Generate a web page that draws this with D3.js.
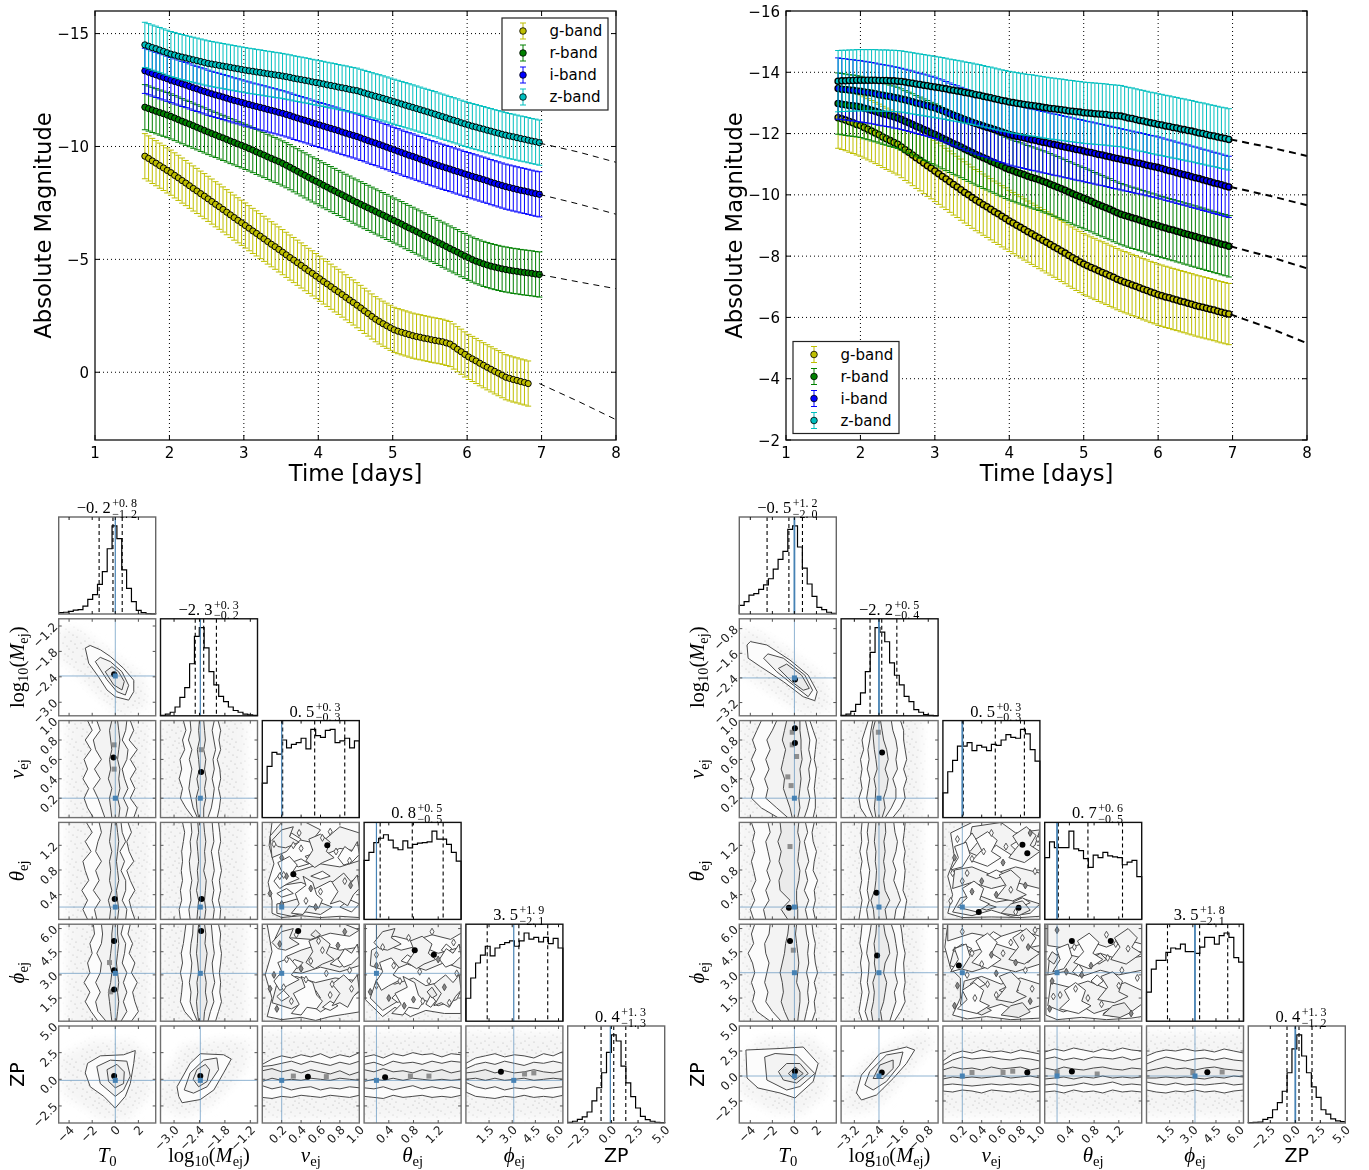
<!DOCTYPE html>
<html><head><meta charset="utf-8"><title>Light curves and corner plots</title>
<script src="https://cdn.jsdelivr.net/npm/d3@7/dist/d3.min.js"></script>
<style>html,body{margin:0;background:#fff}svg{display:block;filter:blur(0.3px)}</style></head><body><svg id="c"></svg>
<script>
// ---------- light curve data (magnitudes; error bars are +/-1 mag) ----------
const bandNames=["g-band","r-band","i-band","z-band"];
const bandColors=["#bfbf00","#008000","#0000ff","#00bfbf"];
const magErr=1;
const timeL=[1.67,1.72,1.77,1.82,1.87,1.92,1.97,2.02,2.07,2.12,2.17,2.22,2.27,2.32,2.37,2.42,2.47,2.52,2.57,2.62,2.67,2.72,2.77,2.82,2.87,2.92,2.97,3.02,3.07,3.12,3.17,3.22,3.27,3.32,3.37,3.42,3.47,3.52,3.57,3.62,3.67,3.72,3.77,3.82,3.87,3.92,3.97,4.02,4.07,4.12,4.17,4.22,4.27,4.32,4.37,4.42,4.47,4.52,4.57,4.62,4.67,4.72,4.77,4.82,4.87,4.92,4.97,5.02,5.07,5.12,5.17,5.22,5.27,5.32,5.37,5.42,5.47,5.52,5.57,5.62,5.67,5.72,5.77,5.82,5.87,5.92,5.97,6.02,6.07,6.12,6.17,6.22,6.27,6.32,6.37,6.42,6.47,6.52,6.57,6.62,6.67,6.72,6.77,6.82,6.87,6.92,6.97];
const timeR=[1.70,1.75,1.80,1.85,1.90,1.95,2.00,2.05,2.10,2.15,2.20,2.25,2.30,2.35,2.40,2.45,2.50,2.55,2.60,2.65,2.70,2.75,2.80,2.85,2.90,2.95,3.00,3.05,3.10,3.15,3.20,3.25,3.30,3.35,3.40,3.45,3.50,3.55,3.60,3.65,3.70,3.75,3.80,3.85,3.90,3.95,4.00,4.05,4.10,4.15,4.20,4.25,4.30,4.35,4.40,4.45,4.50,4.55,4.60,4.65,4.70,4.75,4.80,4.85,4.90,4.95,5.00,5.05,5.10,5.15,5.20,5.25,5.30,5.35,5.40,5.45,5.50,5.55,5.60,5.65,5.70,5.75,5.80,5.85,5.90,5.95,6.00,6.05,6.10,6.15,6.20,6.25,6.30,6.35,6.40,6.45,6.50,6.55,6.60,6.65,6.70,6.75,6.80,6.85,6.90,6.95];
const gL=[-9.57,-9.47,-9.36,-9.26,-9.15,-9.05,-8.94,-8.84,-8.72,-8.61,-8.49,-8.38,-8.26,-8.14,-8.03,-7.91,-7.80,-7.68,-7.56,-7.44,-7.33,-7.21,-7.09,-6.97,-6.85,-6.73,-6.62,-6.50,-6.38,-6.26,-6.15,-6.03,-5.91,-5.79,-5.67,-5.56,-5.44,-5.32,-5.20,-5.08,-4.97,-4.85,-4.73,-4.61,-4.49,-4.38,-4.26,-4.14,-4.02,-3.91,-3.79,-3.67,-3.56,-3.44,-3.32,-3.20,-3.09,-2.97,-2.85,-2.72,-2.60,-2.47,-2.35,-2.25,-2.15,-2.06,-1.97,-1.88,-1.82,-1.77,-1.72,-1.67,-1.62,-1.58,-1.55,-1.51,-1.48,-1.44,-1.41,-1.38,-1.35,-1.30,-1.25,-1.14,-1.02,-.91,-.79,-.68,-.59,-.50,-.40,-.31,-.22,-.13,-.04,.04,.13,.22,.27,.32,.36,.41,.45,.50];
const rL=[-11.74,-11.68,-11.62,-11.56,-11.50,-11.45,-11.39,-11.33,-11.26,-11.19,-11.12,-11.05,-10.99,-10.92,-10.85,-10.78,-10.71,-10.64,-10.57,-10.51,-10.44,-10.38,-10.31,-10.24,-10.18,-10.11,-10.05,-9.98,-9.91,-9.84,-9.76,-9.69,-9.62,-9.54,-9.47,-9.40,-9.33,-9.25,-9.17,-9.08,-8.99,-8.90,-8.81,-8.72,-8.63,-8.54,-8.46,-8.37,-8.28,-8.20,-8.11,-8.03,-7.94,-7.86,-7.77,-7.69,-7.60,-7.52,-7.44,-7.36,-7.28,-7.20,-7.12,-7.04,-6.96,-6.88,-6.80,-6.72,-6.64,-6.56,-6.47,-6.39,-6.31,-6.23,-6.15,-6.06,-5.98,-5.90,-5.82,-5.73,-5.65,-5.57,-5.48,-5.40,-5.32,-5.23,-5.15,-5.07,-4.99,-4.92,-4.86,-4.80,-4.75,-4.70,-4.66,-4.62,-4.58,-4.55,-4.52,-4.49,-4.47,-4.44,-4.42,-4.40,-4.38,-4.35,-4.33];
const iL=[-13.35,-13.29,-13.23,-13.17,-13.11,-13.06,-13.00,-12.94,-12.88,-12.83,-12.77,-12.72,-12.66,-12.60,-12.55,-12.49,-12.44,-12.38,-12.33,-12.28,-12.24,-12.19,-12.14,-12.09,-12.04,-12.00,-11.95,-11.90,-11.86,-11.81,-11.77,-11.73,-11.69,-11.64,-11.60,-11.56,-11.51,-11.47,-11.42,-11.37,-11.31,-11.26,-11.21,-11.16,-11.11,-11.05,-11.00,-10.95,-10.90,-10.85,-10.80,-10.75,-10.70,-10.64,-10.59,-10.54,-10.49,-10.44,-10.38,-10.32,-10.26,-10.20,-10.15,-10.09,-10.03,-9.97,-9.91,-9.85,-9.79,-9.73,-9.67,-9.61,-9.56,-9.50,-9.44,-9.38,-9.32,-9.26,-9.21,-9.15,-9.10,-9.05,-9.00,-8.94,-8.89,-8.84,-8.78,-8.73,-8.68,-8.63,-8.58,-8.53,-8.48,-8.42,-8.37,-8.32,-8.27,-8.22,-8.18,-8.14,-8.10,-8.06,-8.03,-7.99,-7.95,-7.91,-7.88];
const zL=[-14.50,-14.44,-14.38,-14.33,-14.27,-14.21,-14.15,-14.09,-14.05,-14.00,-13.96,-13.92,-13.88,-13.84,-13.80,-13.76,-13.72,-13.68,-13.65,-13.62,-13.59,-13.56,-13.53,-13.50,-13.47,-13.44,-13.41,-13.38,-13.35,-13.33,-13.30,-13.28,-13.25,-13.22,-13.20,-13.17,-13.15,-13.12,-13.09,-13.06,-13.02,-12.99,-12.96,-12.93,-12.90,-12.86,-12.83,-12.80,-12.77,-12.73,-12.70,-12.67,-12.63,-12.60,-12.57,-12.53,-12.50,-12.47,-12.42,-12.37,-12.32,-12.27,-12.22,-12.18,-12.13,-12.08,-12.03,-11.98,-11.93,-11.88,-11.83,-11.78,-11.73,-11.68,-11.63,-11.58,-11.53,-11.48,-11.43,-11.37,-11.32,-11.27,-11.21,-11.16,-11.11,-11.05,-11.00,-10.95,-10.90,-10.86,-10.81,-10.77,-10.72,-10.68,-10.63,-10.59,-10.54,-10.50,-10.46,-10.43,-10.39,-10.35,-10.32,-10.28,-10.24,-10.21,-10.17];
const gR=[-12.52,-12.48,-12.44,-12.39,-12.35,-12.30,-12.26,-12.20,-12.14,-12.08,-12.02,-11.96,-11.89,-11.83,-11.77,-11.71,-11.65,-11.56,-11.47,-11.39,-11.30,-11.21,-11.13,-11.04,-10.95,-10.87,-10.78,-10.69,-10.60,-10.52,-10.43,-10.34,-10.26,-10.17,-10.08,-10.00,-9.91,-9.83,-9.76,-9.68,-9.61,-9.53,-9.45,-9.38,-9.30,-9.23,-9.15,-9.08,-9.01,-8.94,-8.87,-8.80,-8.73,-8.66,-8.59,-8.52,-8.45,-8.38,-8.31,-8.24,-8.17,-8.10,-8.02,-7.95,-7.88,-7.81,-7.74,-7.69,-7.63,-7.58,-7.52,-7.47,-7.42,-7.36,-7.31,-7.25,-7.20,-7.15,-7.11,-7.06,-7.02,-6.97,-6.92,-6.88,-6.83,-6.79,-6.74,-6.71,-6.67,-6.64,-6.60,-6.57,-6.53,-6.50,-6.46,-6.43,-6.39,-6.36,-6.33,-6.30,-6.27,-6.24,-6.20,-6.17,-6.14,-6.11];
const rR=[-12.98,-12.96,-12.94,-12.92,-12.91,-12.89,-12.87,-12.83,-12.80,-12.76,-12.73,-12.69,-12.65,-12.62,-12.58,-12.55,-12.51,-12.46,-12.40,-12.35,-12.30,-12.24,-12.19,-12.13,-12.08,-12.02,-11.97,-11.91,-11.85,-11.79,-11.73,-11.67,-11.62,-11.56,-11.50,-11.44,-11.38,-11.32,-11.27,-11.21,-11.16,-11.10,-11.05,-10.99,-10.94,-10.88,-10.83,-10.79,-10.74,-10.70,-10.66,-10.61,-10.57,-10.53,-10.49,-10.44,-10.40,-10.35,-10.30,-10.25,-10.20,-10.15,-10.09,-10.04,-9.99,-9.94,-9.89,-9.84,-9.79,-9.73,-9.68,-9.63,-9.58,-9.53,-9.47,-9.42,-9.37,-9.33,-9.29,-9.25,-9.22,-9.18,-9.14,-9.10,-9.06,-9.03,-8.99,-8.95,-8.92,-8.88,-8.85,-8.81,-8.78,-8.74,-8.71,-8.67,-8.64,-8.60,-8.57,-8.53,-8.50,-8.46,-8.43,-8.39,-8.36,-8.32];
const iR=[-13.47,-13.45,-13.44,-13.42,-13.41,-13.39,-13.38,-13.36,-13.34,-13.32,-13.30,-13.27,-13.25,-13.23,-13.21,-13.18,-13.16,-13.13,-13.10,-13.07,-13.04,-13.00,-12.97,-12.94,-12.91,-12.87,-12.84,-12.79,-12.75,-12.70,-12.65,-12.60,-12.56,-12.51,-12.46,-12.42,-12.37,-12.33,-12.29,-12.25,-12.21,-12.17,-12.13,-12.09,-12.05,-12.01,-11.97,-11.94,-11.91,-11.89,-11.86,-11.83,-11.80,-11.78,-11.75,-11.72,-11.70,-11.67,-11.64,-11.62,-11.59,-11.56,-11.54,-11.51,-11.48,-11.46,-11.43,-11.40,-11.38,-11.35,-11.32,-11.30,-11.27,-11.24,-11.21,-11.19,-11.16,-11.13,-11.11,-11.08,-11.05,-11.03,-11.00,-10.97,-10.94,-10.92,-10.89,-10.86,-10.82,-10.79,-10.76,-10.72,-10.69,-10.66,-10.63,-10.59,-10.56,-10.53,-10.49,-10.46,-10.43,-10.39,-10.36,-10.33,-10.29,-10.26];
const zR=[-13.71,-13.72,-13.72,-13.73,-13.73,-13.74,-13.74,-13.74,-13.74,-13.74,-13.74,-13.73,-13.73,-13.73,-13.72,-13.72,-13.71,-13.70,-13.68,-13.66,-13.64,-13.62,-13.60,-13.58,-13.56,-13.54,-13.52,-13.50,-13.48,-13.46,-13.43,-13.41,-13.39,-13.37,-13.34,-13.32,-13.30,-13.27,-13.25,-13.22,-13.19,-13.17,-13.14,-13.11,-13.08,-13.06,-13.03,-13.01,-12.99,-12.97,-12.95,-12.93,-12.92,-12.90,-12.88,-12.86,-12.84,-12.82,-12.81,-12.79,-12.78,-12.76,-12.74,-12.73,-12.71,-12.70,-12.68,-12.67,-12.66,-12.65,-12.64,-12.63,-12.62,-12.60,-12.59,-12.58,-12.57,-12.54,-12.51,-12.49,-12.46,-12.43,-12.41,-12.38,-12.35,-12.33,-12.30,-12.28,-12.25,-12.23,-12.20,-12.18,-12.15,-12.13,-12.10,-12.08,-12.05,-12.02,-12.00,-11.97,-11.94,-11.92,-11.89,-11.86,-11.84,-11.81];
const extTimes=[6.97,7.5,8];
const extL=[[.5,1.3,2.1],[-4.33,-4.0,-3.7],[-7.88,-7.45,-7.0],[-10.15,-9.75,-9.3]];
const extR=[[-6.1,-5.65,-5.16],[-8.32,-7.98,-7.6],[-10.26,-9.97,-9.66],[-11.81,-11.55,-11.27]];
const xTicksTop=[1,2,3,4,5,6,7,8];
const yTicksL=[-15,-10,-5,0];
const yTicksR=[-16,-14,-12,-10,-8,-6,-4,-2];

// ---------- corner plot data ----------
const domL=[[-4.9,3.5],[-3.32,-1.03],[0,1],[0,1.5708],[0,6.2832],[-4.1,5]];
const domR=[[-5,3.8],[-3.63,-.48],[0,1],[0,1.5708],[0,6.2832],[-4.7,5]];
const ticksCommon=[[-4,-2,0,2],null,[.2,.4,.6,.8,1],[.4,.8,1.2],[1.5,3,4.5,6],[-2.5,0,2.5,5]];
const ticksMejL=[-3,-2.4,-1.8,-1.2];
const ticksMejR=[-3.2,-2.4,-1.6,-.8];
const truthL=[0,-2.38,.2,.2,3.1,-.1];
const truthR=[0,-2.4,.2,.2,3.14,0];
const medL=[-.2,-2.3,.5,.8,3.5,.4],plusL=[.8,.3,.3,.5,1.9,1.3],minusL=[1.2,.2,.3,.5,2.1,1.3];
const medR=[-.5,-2.2,.5,.7,3.5,.4],plusR=[1.2,.5,.3,.6,1.8,1.3],minusR=[2.0,.4,.3,.5,2.1,1.2];
const quantL=[[-1.4,-.2,.6],[-2.5,-2.3,-2.0],[.21,.54,.85],[.26,.78,1.28],[1.38,3.43,5.3],[-.97,.22,1.35]];
const quantR=[[-2.48,-.5,.73],[-2.69,-2.31,-1.82],[.21,.54,.84],[.22,.7,1.26],[1.36,3.44,5.26],[-.83,.37,1.67]];
const hL_T0=[1.5,2,3,4.5,5,9,16.6,22,33.5,48,74,100,85.5,50,29,14,4,1.5,.5,.2];
const hL_M=[.4,2,4,10,21,32,59,90,100,77,50,35,22,16,10,6,4,2,1,.4];
const hL_v=[39,58,74,72,88,79,83,85,90,78,100,93,91,99,100,85,87,90,79,87];
const hL_th=[67,76,87,92,96,90,81,79,89,81,85,86.5,87,88,100,91,91,85,76,66];
const hL_phi=[26,49,66,75,85,74,83,87,89,91,85,91,100,93,95,90,95,88,94,83];
const hL_ZP=[.8,2,4,7,12.5,25,40,57,80,100,93,64.5,45.5,30,17,7.6,3.8,2,.8,.4];
const hR_T0=[9.8,14,21.5,23,28,33,40,51,62,71,96,100,76,52,34,20,7.5,5,2,.8];
const hR_M=[.4,2,5,13,26,50,72,100,95,84,60,46,35,22,16,7,4,1.5,.4,.2];
const hR_v=[28,52,65,81,81,85,76,82,80,76,83,82,88,94,91,90,100,95,77,64];
const hR_th=[70,88,81.5,81.5,81.5,100,80,78,69,59,73,70,76,72,71,70,62,65,67,48.5];
const hR_phi=[33,59,69,69,78,83,82,87.5,79,79,77,84,95,95,87.5,97,100,95,72,67];
const hR_ZP=[.4,.8,1,4,6,15,23,36,57,84,100,76,57,41,29,15,10,4.6,2.3,1.5];

// Contour stations for band-shaped panels
const stV=[0,.1,.2,.3,.4,.5,.6,.7,.8,.9,1];
const stTh=[0,.16,.31,.47,.63,.79,.94,1.1,1.26,1.41,1.57];
const stPhi=[0,.63,1.26,1.88,2.51,3.14,3.77,4.4,5.03,5.65,6.28];

// rings: [level, x,y,x,y,...] closed polygons, or [level, lowEdge[], highEdge[]] read at the stations
const rL01=[[0,-2.6,-1.72,-2.17,-1.66,-1.3,-1.76,-.43,-1.92,.72,-2.2,1.6,-2.48,1.6,-2.75,1.16,-2.95,0,-2.87,-.72,-2.71,-1.45,-2.4,-2.3,-2.08],[1,-1.73,-2.04,-1.3,-1.94,-.43,-2.04,.58,-2.28,1.16,-2.6,.87,-2.83,.14,-2.75,-.72,-2.47],[2,-.87,-2.28,-.29,-2.16,.29,-2.28,.78,-2.51,.58,-2.71,-.14,-2.59]];
const rL05=[[0,-2.4,1.5,-1.3,2.2,.72,2.3,1.73,2.7,1.6,1.5,1.3,-.4,.87,-1.6,0,-2.7,-1,-1.6,-2.17,-.7,-2.6,.6],[1,-1.6,1.2,-.43,1.8,1,1.7,1.3,.3,.72,-1,0,-1.6,-1.3,-.4],[2,-.72,.9,.14,1.4,.78,.7,.72,-.4,0,-.8,-.58,-.2]];
const rL15=[[0,-2.89,-1.6,-2.93,-.7,-2.62,1.5,-2.38,2.4,-1.83,2.3,-1.65,1.9,-1.83,.6,-2.06,-1,-2.38,-1.9,-2.81,-2.2],[1,-2.76,-1,-2.62,.6,-2.3,1.8,-1.99,2,-1.95,.9,-2.22,-.7,-2.54,-1.3],[2,-2.55,0,-2.46,.9,-2.26,1.4,-2.16,.9,-2.22,-.2,-2.42,-.7]];
const rL02=[[0,[-1.9,-2.4,-2.7,-2.3,-2.8,-2.4,-2.7,-2.1,-2.6,-2.0,-2.4],[1.6,1.9,1.3,1.7,1.3,1.8,1.3,1.9,1.2,1.6,1.3]],[1,[-.9,-1.2,-1.5,-1.9,-1.3,-1.8,-1.2,-1.7,-1.9,-1.3,-1.6],[.9,1.1,.7,1.1,.8,.6,1,1.1,.6,.9,1]],[2,[-.3,-.4,-.5,-.3,-.6,-.4,-.5,-.3,-.4,-.5,-.3],[.3,.4,.2,.4,.3,.4,.2,.3,.4,.3,.2]]];
const rL03=[[0,[-2.4,-2.8,-2.4,-2.9,-2.3,-2.6,-2.8,-2.1,-2.6,-2.0,-2.5],[1.7,1.4,1.2,1.7,1.3,1.0,1.6,1.2,1.0,1.4,1.1]],[1,[-1.6,-1.8,-1.3,-1.9,-1.4,-1.7,-1.2,-1.7,-1.5,-1.2,-1.4],[.9,1,.6,.9,.9,.5,.8,.4,.9,.6,.5]],[2,[-.5,-.4,-.6,-.3,-.5,-.4,-.5,-.3,-.5,-.4,-.3],[.2,.3,.2,.1,.3,.2,.1,.2,.3,.2,.1]]];
const rL04=[[0,[-1.5,-2.1,-2.6,-2.2,-2.7,-2.2,-2.4,-2.0,-2.2,-1.8,-1.9],[1.4,2,1.7,1.5,1.9,1.4,1.7,1.2,1.5,1.1,1.3]],[1,[-.8,-1.5,-1.7,-1.3,-1.7,-1.3,-1.2,-1.6,-1.2,-1.1,-1.2],[.5,1,.7,1,.7,1,.6,.8,.9,.5,.7]],[2,[-.3,-.4,-.5,-.6,-.4,-.3,-.5,-.4,-.3,-.3,-.2],[.1,.2,.3,.2,.3,.2,.1,.2,.3,.2,.2]]];
const rL12=[[0,[-2.55,-2.72,-2.85,-2.8,-2.88,-2.82,-2.86,-2.75,-2.8,-2.72,-2.78],[-1.98,-1.93,-1.9,-1.95,-1.9,-1.92,-1.98,-1.9,-1.94,-1.9,-1.96]],[1,[-2.45,-2.55,-2.6,-2.65,-2.62,-2.58,-2.64,-2.58,-2.66,-2.6,-2.62],[-2.2,-2.12,-2.08,-2.05,-2.1,-2.05,-2.08,-2.02,-2.06,-2.1,-2.05]],[2,[-2.42,-2.46,-2.48,-2.42,-2.46,-2.4,-2.42,-2.45,-2.4,-2.42,-2.4],[-2.3,-2.3,-2.25,-2.28,-2.24,-2.28,-2.25,-2.3,-2.26,-2.28,-2.3]]];
const rL13=[[0,[-2.85,-2.88,-2.82,-2.85,-2.8,-2.83,-2.8,-2.82,-2.78,-2.75,-2.8],[-1.92,-1.9,-1.95,-1.9,-1.93,-1.88,-1.92,-1.95,-1.9,-1.92,-1.95]],[1,[-2.62,-2.65,-2.6,-2.62,-2.58,-2.62,-2.64,-2.6,-2.62,-2.58,-2.6],[-2.08,-2.05,-2.1,-2.06,-2.1,-2.05,-2.08,-2.12,-2.06,-2.08,-2.1]],[2,[-2.46,-2.44,-2.42,-2.47,-2.43,-2.45,-2.42,-2.44,-2.46,-2.42,-2.44],[-2.28,-2.25,-2.28,-2.26,-2.24,-2.3,-2.26,-2.28,-2.25,-2.28,-2.3]]];
const rL14=[[0,[-2.55,-2.75,-2.85,-2.82,-2.8,-2.85,-2.8,-2.83,-2.78,-2.75,-2.72],[-2.02,-1.95,-1.88,-1.92,-1.9,-1.93,-1.9,-1.88,-1.92,-1.9,-1.95]],[1,[-2.45,-2.55,-2.62,-2.6,-2.64,-2.6,-2.58,-2.62,-2.6,-2.56,-2.55],[-2.2,-2.14,-2.06,-2.1,-2.04,-2.08,-2.1,-2.05,-2.08,-2.1,-2.12]],[2,[-2.42,-2.45,-2.47,-2.44,-2.46,-2.42,-2.44,-2.47,-2.45,-2.44,-2.42],[-2.3,-2.28,-2.22,-2.26,-2.24,-2.28,-2.25,-2.22,-2.27,-2.25,-2.28]]];
const rL25=[[0,[-1.7,-1.8,-1.6,-1.7,-1.5,-1.6,-1.7,-1.5,-1.6,-1.7,-1.5],[1.4,1.9,2.2,2.0,2.3,2.1,2.4,2.0,2.3,2.1,2.5]],[1,[-.6,-.9,-.7,-1.0,-.8,-.7,-1,-.8,-.9,-.7,-.8],[1.2,1.3,1.5,1.7,1.4,1.7,1.5,1.3,1.6,1.4,1.7]],[2,[-.2,.1,-.1,0,-.1,.1,0,-.1,.1,0,-.1],[.8,1,.7,.9,.6,.9,.7,.5,.8,.4,.7]]];
const rL35=[[0,[-1.6,-1.7,-1.8,-1.5,-1.7,-1.6,-1.5,-1.7,-1.6,-1.7,-1.5],[2.1,2.3,2.0,2.4,2.2,2.5,2.3,2.4,2.1,2.4,2.3]],[1,[-.8,-.9,-.7,-1,-.8,-.6,-.9,-.7,-.9,-.7,-.9],[1.4,1.6,1.3,1.7,1.5,1.6,1.4,1.7,1.5,1.7,1.6]],[2,[-.2,0,-.1,.1,-.1,.1,0,-.1,0,-.1,0],[.9,.7,1,.7,.8,.6,.9,.7,.9,.6,.8]]];
const rL45=[[0,[-1.2,-1.6,-1.7,-1.8,-1.6,-1.7,-1.5,-1.7,-1.6,-1.7,-1.5],[1.5,2.0,2.2,2.4,2.1,2.3,2.2,2.0,2.4,2.2,2.6]],[1,[-.3,-.7,-.9,-.7,-1,-.8,-.9,-.7,-.9,-.8,-.7],[1,1.4,1.6,1.4,1.7,1.5,1.3,1.6,1.5,1.7,1.5]],[2,[0,.1,-.1,.1,-.1,0,.1,-.1,0,.1,0],[.6,.7,.9,.6,.8,.6,.7,.9,.7,.6,.8]]];
const rL23=[[0,.1,.1,.2,.03,.4,.06,.6,.03,.8,.05,1,.03,1,1.57,.1,1.57,.07,1.2,.12,.9,.06,.6,.1,.3],[1,.15,.1,.3,.05,.45,.12,.6,.08,.72,.2,.55,.3,.4,.35,.25,.28,.15,.25],[1,.2,.55,.4,.6,.55,.5,.7,.62,.85,.55,1,.7,1,.95,.8,.85,.6,.9,.4,.8,.25,.75],[1,.1,1,.25,1.1,.35,1.3,.5,1.25,.6,1.45,.45,1.57,.2,1.57,.08,1.35],[1,.65,1.05,.8,1.15,1,1.1,1,1.4,.8,1.5,.65,1.3],[0,.25,1.25,.3,1.4,.4,1.3,.33,1.18],[0,.5,.7,.62,.78,.7,.7,.6,.65],[0,.8,.2,.9,.32,1,.25,.92,.12],[2,.44,1.02,.55,1.08,.6,.98,.5,.94],[0,.3,.92,.4,.98,.48,.9,.37,.85],[0,.15,.42,.25,.5,.32,.42,.2,.36],
 [0,.3,.1,.38,.25,.34,.42,.45,.55,.42,.7,.52,.6,.56,.4,.62,.32,.58,.18,.48,.22,.42,.08],[1,.7,.25,.78,.45,.72,.6,.84,.75,.92,.6,.98,.72,1,.5,.94,.4,.88,.22,.8,.3],[0,.12,.62,.2,.78,.16,.92,.28,1.02,.36,.88,.3,.74,.38,.66,.26,.58,.18,.5],[1,.45,.95,.52,1.12,.48,1.3,.6,1.38,.7,1.25,.66,1.1,.74,1,.62,.92,.54,.84],[0,.78,1,.85,1.18,.92,1.1,.98,1.26,1,1.05,.92,.92,.84,.88],[1,.1,1.28,.2,1.45,.32,1.5,.28,1.34,.38,1.25,.24,1.16,.16,1.18]];
const rL24=[[0,.05,.3,.2,.1,.4,.25,.55,.05,.7,.3,.85,.45,1,.6,1,6.28,.05,6.28,.1,4.5,.03,3,.1,1.5],[1,.1,1.2,.3,.8,.45,1.3,.6,.6,.75,1.2,.9,1.5,1,1.9,1,2.6,.75,2.8,.55,2.5,.35,2.9,.15,2.4],[1,.2,3.3,.4,3.1,.6,3.5,.8,3.2,1,3.6,1,4.8,.8,4.6,.6,5,.4,4.6,.25,4.2],[1,.12,5.2,.3,5.4,.5,5.3,.7,5.7,.9,5.5,1,5.9,.85,6.28,.2,6.28],[0,.45,2.1,.55,2,.6,1.5,.5,1.4],[0,.7,3.7,.8,4.2,.88,3.8,.8,3.5],[0,.28,3.6,.33,4,.42,3.8,.36,3.4],[2,.5,5.6,.55,5.9,.6,5.6,.55,5.4],[0,.15,1.6,.22,2,.28,1.6,.2,1.3],[0,.62,.9,.7,1.3,.78,1,.7,.7],
 [0,.3,.5,.38,1.1,.32,1.8,.44,2.2,.4,2.9,.52,2.5,.56,1.7,.62,1.3,.56,.8,.46,.9,.4,.4],[1,.72,1,.8,1.8,.72,2.4,.84,3,.92,2.5,.98,3,1,2,.94,1.6,.88,.9,.8,1.2],[0,.12,2.6,.2,3.2,.16,3.8,.28,4.1,.36,3.5,.3,3,.38,2.7,.26,2.3,.18,2],[1,.45,3.8,.52,4.5,.48,5.2,.6,5.5,.7,5,.66,4.4,.74,4,.62,3.7,.54,3.4],[0,.78,4,.85,4.7,.92,4.4,.98,5,1,4.2,.92,3.7,.84,3.5],[1,.1,5.1,.2,5.8,.32,6,.28,5.4,.38,5,.24,4.6,.16,4.7]];
const rL34=[[0,.02,1.4,.3,.3,.5,.9,.75,.3,1,.7,1.3,.5,1.57,.5,1.57,6.28,.02,6.28],[1,.1,1.5,.3,.7,.55,1.3,.75,.9,.95,1.4,1.2,1,1.5,1.4,1.57,2,1.3,2.6,1,2.3,.8,2.8,.5,2.4,.2,2.7],[1,.1,3.6,.4,3.2,.7,3.7,1,3.3,1.3,3.8,1.57,3.4,1.57,4.8,1.2,4.4,.9,4.9,.6,4.6,.3,5,.12,4.6],[1,.2,5.3,.5,5.5,.8,5.2,1.1,5.6,1.4,5.3,1.57,5.7,1.57,6.28,.2,6.28],[0,.45,1.5,.55,1.9,.65,1.6,.55,1.2],[0,1,1.1,1.08,1.7,1.16,1.3,1.08,.9],[0,.3,2.9,.4,3.2,.5,2.95,.4,2.7],[0,.6,3.9,.7,4.3,.82,4,.7,3.75],[2,1.02,1.9,1.1,2.2,1.18,1.7,1.1,1.5],[0,1.25,4.6,1.33,5,1.42,4.7,1.33,4.4],
 [0,.45,.5,.6,1.1,.5,1.8,.7,2.2,.63,2.9,.82,2.5,.88,1.7,.97,1.3,.88,.8,.72,.9,.63,.4],[1,1.13,1,1.25,1.8,1.13,2.4,1.32,3,1.44,2.5,1.54,3,1.57,2,1.48,1.6,1.38,.9,1.25,1.2],[0,.2,2.6,.3,3.2,.25,3.8,.44,4.1,.56,3.5,.47,3,.6,2.7,.4,2.3,.28,2],[1,.7,3.8,.82,4.5,.75,5.2,.94,5.5,1.1,5,1.04,4.4,1.16,4,.97,3.7,.85,3.4],[0,1.22,4,1.33,4.7,1.44,4.4,1.54,5,1.57,4.2,1.44,3.7,1.32,3.5],[1,.16,5.1,.3,5.8,.5,6,.44,5.4,.6,5,.38,4.6,.25,4.7]];

const rR01=[[0,-4.3,-1.33,-4,-1.22,-2.5,-1.33,-.4,-1.82,1.25,-2.31,2.07,-2.85,1.85,-3.14,.8,-3.01,-1,-2.52,-3.1,-2.03,-4.2,-1.76],[1,-2.8,-1.76,-2.4,-1.62,-1,-1.76,.95,-2.31,1.65,-2.8,1.25,-3.01,-.1,-2.63,-1.6,-2.2],[2,-1.45,-2.09,-.7,-1.95,.65,-2.31,1.35,-2.74,.8,-2.8,-.25,-2.52]];
const rR05=[[0,-4.4,2.6,-1.3,2.75,.8,2.9,2.15,1.25,1.7,-.55,.05,-2.2,-1.3,-1.7,-3.3,-1.2,-4.3,-.2],[1,-2.7,1.9,-1.75,2.25,.2,2.1,1.85,.25,.5,-1.05,-.7,-1.4,-2.5,-.4],[2,-1.45,.45,-.7,1.25,.5,1.25,1.25,.25,.2,-.7,-1,-.4],[3,-.55,.25,.05,.9,.8,.25,.05,-.4]];
const rR15=[[0,-3.13,-1.7,-2.97,.1,-2.37,2.25,-1.51,2.9,-1.24,2.6,-1.51,1.25,-1.94,-.25,-2.48,-1.9,-2.97,-2.4],[1,-2.86,-.9,-2.7,.45,-2.16,2.1,-1.62,2.4,-1.73,1.1,-2.16,-.55,-2.59,-1.4],[2,-2.59,-.25,-2.37,1.1,-1.94,1.6,-1.94,.75,-2.27,-.25]];
const rR02=[[0,[-1.5,-3.0,-3.9,-3.7,-4.0,-3.6,-3.9,-3.5,-3.8,-3.4,-3.0],[1.7,1.9,1.9,1.8,1.9,2,1.8,1.9,2,1.7,1.4]],[1,[-.6,-1.6,-2.6,-2.4,-2.7,-2.3,-2.6,-2.2,-2.5,-2.0,-1.6],[.9,1.2,1.4,1.2,1.4,1.3,1.5,1.3,1.4,1.2,1.0]],[2,[-.2,-.4,-.7,-1.0,-.9,-1.2,-1.0,-.8,-1.1,-.9,-.7],[.3,.5,.4,.5,.6,.5,.7,.6,.6,.5,.5]]];
const rR03=[[0,[-3.7,-4.0,-3.6,-3.9,-3.5,-3.7,-3.9,-3.6,-3.8,-3.6,-3.9],[1.9,1.7,1.9,1.8,2.1,1.7,1.8,2.0,1.7,1.6,1.8]],[1,[-2.6,-2.8,-2.3,-2.6,-2.2,-2.5,-2.2,-2.4,-2.6,-2.2,-2.4],[1.2,1,1.3,.9,1.2,1,1.3,1.1,.9,1.2,1]],[2,[-.6,-1.2,-.4,-1.3,-1.4,-1.1,-1.4,-1.2,-1.5,-1.2,-1.3],[.3,.3,.2,.2,.4,.5,.3,.4,.5,.3,.4]]];
const rR04=[[0,[-2.2,-3.4,-3.8,-3.6,-3.9,-3.6,-3.8,-4.2,-3.7,-3.9,-3.6],[1.6,1.9,1.8,2,1.8,2.1,1.9,1.8,1.9,1.7,1.6]],[1,[-1.2,-2.0,-2.6,-2.4,-2.7,-2.5,-2.3,-2.6,-2.7,-2.3,-2.2],[.9,1.1,1.3,1.2,1.3,1.1,1.3,1.2,1.3,1.1,1]],[2,[-.5,-.9,-1.2,-1,-1.1,-1.3,-1.1,-.9,-.8,-.6,-.5],[.3,.4,.5,.5,.2,.3,.4,.3,.2,.1,.2]]];
const rR12=[[0,[-2.8,-3,-3.05,-2.95,-3,-2.95,-3,-2.9,-2.95,-2.85,-2.75],[-1.95,-1.7,-1.55,-1.6,-1.5,-1.6,-1.5,-1.55,-1.6,-1.6,-1.7]],[1,[-2.6,-2.72,-2.8,-2.75,-2.7,-2.78,-2.72,-2.76,-2.7,-2.66,-2.6],[-2.2,-2,-1.85,-1.85,-1.95,-1.8,-1.85,-1.8,-1.85,-1.95,-2]],[2,[-2.5,-2.55,-2.52,-2.5,-2.56,-2.46,-2.5,-2.55,-2.58,-2.6,-2.52],[-2.3,-2.2,-2.25,-2.15,-2.1,-2.2,-2.1,-2.15,-2.25,-2.3,-2.35]]];
const rR13=[[0,[-3.05,-3,-2.95,-3.02,-2.96,-3,-2.95,-3.02,-2.96,-2.98,-2.95],[-1.6,-1.55,-1.5,-1.62,-1.58,-1.55,-1.6,-1.55,-1.62,-1.58,-1.55]],[1,[-2.75,-2.8,-2.72,-2.78,-2.74,-2.7,-2.76,-2.8,-2.74,-2.78,-2.74],[-1.9,-1.85,-1.7,-1.8,-1.92,-1.85,-1.95,-1.85,-1.8,-1.88,-1.92]],[2,[-2.55,-2.58,-2.66,-2.54,-2.5,-2.48,-2.52,-2.5,-2.55,-2.52,-2.5],[-2.15,-2.2,-2.05,-2.2,-2.25,-2.2,-2.25,-2.2,-2.24,-2.18,-2.2]]];
const rR14=[[0,[-2.95,-3.05,-3,-2.95,-3,-2.96,-3,-2.95,-3.02,-2.98,-2.95],[-1.9,-1.7,-1.55,-1.6,-1.55,-1.58,-1.6,-1.55,-1.62,-1.65,-1.7]],[1,[-2.75,-2.85,-2.78,-2.72,-2.78,-2.74,-2.72,-2.8,-2.76,-2.7,-2.65],[-2.05,-1.95,-1.85,-1.9,-1.8,-1.88,-1.85,-1.8,-1.85,-1.9,-2]],[2,[-2.6,-2.65,-2.58,-2.55,-2.6,-2.5,-2.55,-2.52,-2.56,-2.5,-2.48],[-2.3,-2.35,-2.25,-2.2,-2.15,-2.25,-2.2,-2.05,-2.1,-2.2,-2.25]]];
const rR25=[[0,[-1.5,-1.6,-1.4,-1.5,-1.7,-1.4,-1.5,-1.6,-1.4,-1.6,-1.5],[1.5,2.2,2.5,2.3,2.6,2.4,2.5,2.3,2.6,2.4,2.2]],[1,[-.9,-.8,-.9,-1,-.9,-.8,-.9,-.8,-.9,-.8,-1],[1.1,1.6,1.9,1.7,1.8,1.9,1.7,1.6,1.8,1.7,1.5]],[2,[-.3,-.1,-.2,-.1,-.2,-.1,0,-.2,-.1,0,-.2],[.6,.9,.7,.8,.6,.9,.7,.8,.9,.6,.8]]];
const rR35=[[0,[-1.6,-1.5,-1.7,-1.4,-1.6,-1.5,-1.7,-1.4,-1.6,-1.5,-1.6],[2.4,2.7,2.5,2.8,2.6,2.4,2.7,2.5,2.8,2.6,2.5]],[1,[-.9,-.8,-1,-.9,-.7,-.9,-.8,-.6,-.9,-.8,-.9],[1.7,1.9,1.6,1.8,1.6,1.9,1.8,1.7,1.9,1.6,1.8]],[2,[-.3,-.2,-.1,-.3,-.1,-.2,0,-.2,-.1,-.2,-.1],[.8,.6,.9,.7,.6,.8,.9,.7,.6,.8,.7]]];
const rR45=[[0,[-1.4,-1.6,-1.7,-1.5,-1.6,-1.4,-1.6,-1.5,-1.7,-1.5,-1.4],[2,2.4,2.6,2.5,2.7,2.5,2.6,2.4,2.7,2.5,2.3]],[1,[-.6,-.8,-.9,-.7,-.9,-.8,-.9,-.8,-.7,-.9,-.8],[1.2,1.6,1.9,1.7,1.5,1.7,1.8,1.6,1.8,1.6,1.5]],[2,[-.2,-.2,-.1,-.2,-.1,-.2,-.3,-.1,-.2,0,-.1],[.5,.7,.9,.7,.8,.6,.8,.9,.7,.6,.5]]];
const rR23=[[0,.05,.1,.2,.03,.5,.04,.8,.03,1,.05,1,1.57,.3,1.57,.08,1.4,.12,1,.05,.7,.1,.4],[1,.1,.12,.3,.06,.5,.15,.7,.05,.9,.1,1,.25,.8,.35,.55,.28,.35,.4,.18,.35],[1,.1,.5,.3,.6,.5,.5,.75,.6,1,.5,1,.75,.75,.85,.5,.72,.3,.85,.12,.8],[1,.25,1.1,.4,1,.55,1.2,.75,1,.95,1.2,1,1.45,.75,1.4,.6,1.57,.3,1.5],[0,.45,.72,.55,.8,.65,.72,.55,.66],[0,.2,1.2,.3,1.4,.36,1.25,.28,1.1],[0,.7,1.2,.8,1.3,.88,1.15,.78,1.08],[2,.35,.2,.45,.25,.55,.2,.45,.15],[0,.72,.28,.82,.35,.9,.27,.8,.2],
 [0,.15,.2,.25,.35,.2,.5,.32,.62,.42,.5,.38,.32,.48,.25,.35,.12],[1,.55,.35,.65,.55,.58,.72,.7,.8,.8,.66,.76,.48,.86,.4,.72,.3],[0,.3,.95,.4,1.12,.34,1.3,.46,1.42,.56,1.28,.5,1.1,.6,1,.46,.86],[1,.68,1,.78,1.2,.72,1.35,.86,1.5,.96,1.36,.9,1.2,1,1.1,.84,.92],[0,.08,.8,.16,1,.12,1.18,.24,1.25,.28,1.05,.2,.85],[2,.6,.1,.7,.25,.82,.3,.9,.15,.78,.06]];
const rR24=[[0,.1,.4,.25,.15,.45,.3,.7,.1,1,.2,1,6.28,.05,6.28,.02,4.8,.08,3.4,.18,2.8,.18,1.5],[1,.18,1.1,.4,.7,.6,1.1,.8,.6,1,1,1,2.4,.8,2.8,.6,2.4,.4,2.9,.22,2.6],[1,.07,3.6,.3,3.2,.5,3.6,.75,3.2,1,3.7,1,4.9,.75,4.6,.55,5,.3,4.5,.12,4.8],[1,.05,5.2,.3,5.7,.55,5.4,.8,5.9,1,5.5,1,6.28,.05,6.28],[0,.1,4.6,.2,5,.3,4.7,.2,4.3],[2,.32,.6,.42,1,.5,.7,.4,.4],[0,.58,2,.68,2.3,.78,2,.68,1.7],[0,.45,5.4,.52,5.8,.6,5.5,.52,5.2],[0,.78,4.1,.85,4.7,.95,4.3,.88,3.8],[0,.28,2.4,.36,2.8,.44,2.4,.35,2.1],
 [0,.15,.8,.25,1.4,.2,2,.32,2.5,.42,2,.38,1.3,.48,1,.35,.5],[1,.55,1.4,.65,2.2,.58,2.9,.7,3.2,.8,2.6,.76,1.9,.86,1.6,.72,1.2],[0,.3,3.8,.4,4.5,.34,5.2,.46,5.7,.56,5.1,.5,4.4,.6,4,.46,3.4],[1,.68,4,.78,4.8,.72,5.4,.86,6,.96,5.4,.9,4.8,1,4.4,.84,3.7],[0,.08,3.2,.16,4,.12,4.7,.24,5,.28,4.2,.2,3.4],[2,.6,.4,.7,1,.82,1.2,.9,.6,.78,.24]];
const rR34=[[0,.02,.4,.2,.1,.6,.25,1,.1,1.4,.2,1.57,.3,1.57,6.28,.02,6.28],[1,.05,1,.3,.6,.6,1,.8,.5,1.1,.9,1.4,.6,1.57,1.1,1.57,2,1.3,2.5,1,2.1,.7,2.6,.4,2.2,.1,2.5],[1,.05,3,.3,3.2,.6,2.9,.9,3.3,1.2,3,1.57,3.3,1.57,4.2,1.2,4,.9,4.4,.6,4.1,.3,4.4,.08,4.2],[1,.05,4.9,.4,4.7,.7,5.2,1,4.8,1.3,5.3,1.57,5,1.57,6.28,.05,6.28],[2,.05,4,.12,4.5,.22,4.2,.15,3.7],[0,.45,3.2,.55,3.7,.62,3.3,.55,2.9],[0,.75,2.6,.85,3,.95,2.6,.85,2.3],[0,.6,5,.7,5.6,.8,5.2,.7,4.8],[2,.95,.5,1.1,.9,1.2,.6,1.1,.3],[2,.75,4,.9,4.4,1,4,.88,3.7],
 [0,.24,.8,.4,1.4,.32,2,.5,2.5,.66,2,.6,1.3,.75,1,.55,.5],[1,.86,1.4,1.02,2.2,.91,2.9,1.1,3.2,1.26,2.6,1.2,1.9,1.35,1.6,1.13,1.2],[0,.47,3.8,.63,4.5,.53,5.2,.72,5.7,.88,5.1,.78,4.4,.94,4,.72,3.4],[1,1.07,4,1.22,4.8,1.13,5.4,1.35,6,1.5,5.4,1.41,4.8,1.57,4.4,1.32,3.7],[0,.13,3.2,.25,4,.19,4.7,.38,5,.44,4.2,.31,3.4],[2,.94,.4,1.1,1,1.29,1.2,1.41,.6,1.22,.24]];

// Diamonds: tiny closed contours around single bins in the noisy panels
const dL23=[[.2,.25],[.32,1.2],[.12,1.22],[.25,.7],[.18,.7],[.22,.72],[.5,.5],[.6,.45],[.85,.62],[.91,.55],[.38,1.4],[.7,1.42],[.2,1],[.45,.3],[.9,.95],[.08,.42],[.62,1.32],[.76,1.1],[.55,.2],[.4,1.15]];
const dL24=[[.12,3],[.25,4],[.3,1.3],[.4,3.4],[.5,3.9],[.62,4.6],[.78,4.9],[.9,3.3],[.7,1.7],[.18,5],[.92,2.1],[.45,2.7],[.15,.8],[.58,5.2],[.72,2.4],[.08,2.1],[.35,5.6],[.66,3.1],[.85,5.8],[.22,2.2]];
const dL34=[[.2,3.6],[.2,4.3],[.2,2.3],[.4,1.5],[.3,4.8],[.58,2.6],[.8,1.4],[.95,1.3],[1.05,2.6],[1.3,2.2],[1.45,5.1],[.9,3.2],[1.2,4],[.48,3.6],[.72,5.4],[.1,1.9],[1.1,5.8],[1.5,3.1],[.65,1],[1.38,1.2]];
const dR23=[[.12,1],[.1,.75],[.2,.62],[.3,.45],[.15,1.3],[.42,1.1],[.62,.92],[.7,.48],[.95,.78],[.85,.55],[.5,1.4],[.98,1.3],[.55,.4],[.3,.98],[.25,.75],[.9,1.4],[.08,.3],[.65,1.18],[.4,.62],[.75,.12]];
const dR24=[[.15,2.3],[.3,4.4],[.4,3.7],[.55,3.1],[.7,5.1],[.82,5.4],[.88,4.8],[.85,3.3],[.92,2.1],[.9,1.3],[.55,1.7],[.33,1.5],[.5,4.3],[.2,5.8],[.62,4.4],[.12,1],[.95,5.9],[.46,2.4],[.75,3.8],[.25,3]];
const dR34=[[.12,2.6],[.14,1.6],[.25,1.7],[.35,3.2],[.5,2.1],[.7,1.5],[.75,3.6],[1.02,4.1],[1.2,2.3],[1.4,.5],[1.35,4.7],[1,5.6],[.2,5.9],[.48,4.8],[1.25,3.3],[.08,.8],[.92,1.1],[1.5,2.8],[.6,3],[1.15,5]];

// Peak bins drawn black, lighter filled bins drawn grey
const kL={"0,1":[[-.1,-2.34]],"0,2":[[-.15,.62]],"1,2":[[-2.36,.47]],"0,3":[[-.05,.33]],"1,3":[[-2.35,.33]],"2,3":[[.67,1.2],[.32,.73]],"0,4":[[-.1,5.2],[-.1,3.3],[-.1,2.05]],"1,4":[[-2.36,5.85]],"2,4":[[.37,5.85]],"3,4":[[.82,4.6],[1.13,4.3]],"0,5":[[-.1,.3]],"1,5":[[-2.38,.3]],"2,5":[[.47,.25]],"3,5":[[.34,.2]],"4,5":[[2.27,.7]]};
const kR={"0,1":[[.05,-2.45]],"0,2":[[.05,.92],[.05,.77]],"1,2":[[-2.3,.67]],"0,3":[[-.5,.19]],"1,3":[[-2.48,.43]],"2,3":[[.87,1.07],[.82,1.21],[.37,.12],[.78,.19]],"0,4":[[-.4,5.2]],"1,4":[[-2.46,4.26]],"2,4":[[.165,3.6]],"3,4":[[.44,5.2],[1.07,5.2]],"0,5":[[.05,.45]],"1,5":[[-2.31,.35]],"2,5":[[.87,.35]],"3,5":[[.44,.45]],"4,5":[[3.94,.37]]};
const gL_bins=[[0,2,-.1,.5],[0,2,-.1,.75],[1,2,-2.36,.7],[0,4,-.5,3.8],[0,4,-.4,1.9],[2,5,.32,.3],[2,5,.66,.25],[3,5,.75,.3],[3,5,1.05,.3],[4,5,3.8,.5],[4,5,4.4,.6]];
const gR_bins=[[0,2,-.2,.88],[0,2,-.2,.75],[0,2,.2,.63],[0,2,-.6,.42],[0,2,-.3,.33],[0,3,-.4,1.18],[0,4,-.1,4.6],[1,2,-2.42,.88],[2,5,.3,.35],[2,5,.62,.35],[2,5,.72,.48],[3,5,.2,.4],[3,5,.85,.2],[4,5,3,.35],[4,5,4.9,.4]];

// Density clouds (the faint scatter cannot be read point by point; a fixed speckle texture fills these regions)
const hzL01=[-4.9,-1.3,-3.4,-1.25,-.5,-1.8,2.4,-2.4,2.8,-3.1,.4,-3.32,-2,-2.7,-4.9,-1.9];
const hzL05=[-4.9,2,-2,3.6,1.4,3.6,3.2,2,3,-1.4,1,-3.8,-1,-3.8,-4.4,-1.4];
const hzL15=[-3.32,-2.4,-3.32,-.4,-2.8,3.2,-1.8,3.8,-1.2,3.5,-1.3,1,-2.1,-2.4,-2.8,-3.6];
const hzR01=[-5,-.8,-3.4,-.9,-.5,-1.5,2.8,-2.4,3.4,-3.4,1,-3.6,-2,-2.9,-5,-2.2];
const hzR05=[-5,1.5,-3,3.8,1.6,3.8,3.4,1.8,2.8,-1.8,.6,-3.8,-2,-3.6,-5,-1.6];
const hzR15=[-3.6,-3.6,-3.4,-.4,-2.8,1.6,-2,3.2,-.9,4.4,-.6,3.2,-1.3,.8,-2.2,-2.4,-2.8,-3.6];
const hzBandL={t:[-4.2,3],m:[-3.3,-1.3],z:[-3.7,4.4]};
const hzBandR={t:[-5,3.3],m:[-3.5,-1.0],z:[-3.9,4.3]};
// Hand-placed dots of one repeating tile of the speckle texture
const speckleTile=[[1,3],[5,1],[9,5],[14,2],[18,7],[23,3],[27,6],[31,1],[35,4],[3,9],[7,12],[12,10],[16,13],[21,11],[25,14],[29,9],[33,12],[37,8],[2,16],[6,19],[10,17],[15,21],[19,18],[24,20],[28,16],[32,19],[36,22],[4,24],[8,27],[13,25],[17,28],[22,26],[26,29],[30,24],[34,27],[38,30],[1,31],[5,34],[11,32],[15,36],[20,33],[25,37],[29,32],[33,35],[37,37],[9,38],[19,23],[27,22]];

// ---------- drawing ----------
const svg=d3.select("#c").attr("width",1369).attr("height",1170).attr("viewBox","0 0 1369 1170");
const defs=svg.append("defs");
const SANS="'DejaVu Sans',sans-serif",SERIF="'Liberation Serif',serif";
const blur=defs.append("filter").attr("id","hb").attr("x","-30%").attr("y","-30%").attr("width","160%").attr("height","160%");
blur.append("feGaussianBlur").attr("stdDeviation",5);
const pat=defs.append("pattern").attr("id","spk").attr("patternUnits","userSpaceOnUse").attr("width",40).attr("height",40);
pat.selectAll("circle").data(speckleTile).join("circle").attr("cx",d=>d[0]).attr("cy",d=>d[1]).attr("r",.6).attr("fill","#888").attr("opacity",.6);
let uid=0;
const minusFmt=s=>String(s).replace("-","\u2212");

function lightPanel(o){
  const g=svg.append("g");
  const x=d3.scaleLinear().domain([1,8]).range(o.xr);
  const y=d3.scaleLinear().domain(o.yd).range([o.yr[1],o.yr[0]]);
  const [L,R]=o.xr,[T,B]=o.yr;
  const grid=g.append("g").attr("stroke","#000").attr("stroke-width",1).attr("stroke-dasharray","1,3");
  xTicksTop.slice(1,-1).forEach(v=>grid.append("line").attr("x1",x(v)).attr("x2",x(v)).attr("y1",T).attr("y2",B));
  o.yt.forEach(v=>{if(y(v)>T+1&&y(v)<B-1)grid.append("line").attr("x1",L).attr("x2",R).attr("y1",y(v)).attr("y2",y(v));});
  o.series.forEach((s,i)=>{
    const c=bandColors[i],t=o.t,gg=g.append("g");
    gg.selectAll("line.e").data(s).join("line").attr("x1",(d,k)=>x(t[k])).attr("x2",(d,k)=>x(t[k])).attr("y1",d=>y(d-magErr)).attr("y2",d=>y(d+magErr)).attr("stroke",c).attr("stroke-width",1);
    [-magErr,magErr].forEach(e=>gg.selectAll("line.c"+e).data(s).join("line").attr("x1",(d,k)=>x(t[k])-3).attr("x2",(d,k)=>x(t[k])+3).attr("y1",d=>y(d+e)).attr("y2",d=>y(d+e)).attr("stroke",c).attr("stroke-width",1));
    gg.selectAll("circle").data(s).join("circle").attr("cx",(d,k)=>x(t[k])).attr("cy",d=>y(d)).attr("r",3.1).attr("fill",c).attr("stroke","#000").attr("stroke-width",o.mw);
    g.append("path").attr("d",d3.line().x((d,k)=>x(extTimes[k])).y(d=>y(d))(o.ext[i])).attr("fill","none").attr("stroke","#000").attr("stroke-width",o.dw).attr("stroke-dasharray",o.dd);
  });
  g.append("rect").attr("x",L).attr("y",T).attr("width",R-L).attr("height",B-T).attr("fill","none").attr("stroke","#222").attr("stroke-width",1.4);
  const tk=g.append("g").attr("stroke","#000").attr("stroke-width",1);
  xTicksTop.forEach(v=>{tk.append("line").attr("x1",x(v)).attr("x2",x(v)).attr("y1",B).attr("y2",B-5);tk.append("line").attr("x1",x(v)).attr("x2",x(v)).attr("y1",T).attr("y2",T+5);
    g.append("text").attr("x",x(v)).attr("y",B+18).attr("text-anchor","middle").attr("font-family",SANS).attr("font-size",15).text(v);});
  o.yt.forEach(v=>{tk.append("line").attr("x1",L).attr("x2",L+5).attr("y1",y(v)).attr("y2",y(v));tk.append("line").attr("x1",R).attr("x2",R-5).attr("y1",y(v)).attr("y2",y(v));
    g.append("text").attr("x",L-6).attr("y",y(v)+5.5).attr("text-anchor","end").attr("font-family",SANS).attr("font-size",15).text(minusFmt(v));});
  g.append("text").attr("x",(L+R)/2).attr("y",481).attr("text-anchor","middle").attr("font-family",SANS).attr("font-size",22.6).text("Time [days]");
  g.append("text").attr("transform",`translate(${L-44.5},225.5) rotate(-90)`).attr("text-anchor","middle").attr("font-family",SANS).attr("font-size",22.7).text("Absolute Magnitude");
  const lg=g.append("g").attr("transform",`translate(${o.lx},${o.ly})`);
  lg.append("rect").attr("width",106).attr("height",92).attr("fill","#fff").attr("stroke","#222").attr("stroke-width",1.2);
  bandNames.forEach((n,i)=>{const yy=13+22*i,c=bandColors[i];
    lg.append("line").attr("x1",21).attr("x2",21).attr("y1",yy-8).attr("y2",yy+8).attr("stroke",c);
    [-8,8].forEach(e=>lg.append("line").attr("x1",18).attr("x2",24).attr("y1",yy+e).attr("y2",yy+e).attr("stroke",c));
    lg.append("circle").attr("cx",21).attr("cy",yy).attr("r",3.3).attr("fill",c).attr("stroke","#000").attr("stroke-width",.8);
    lg.append("text").attr("x",47.5).attr("y",yy+5).attr("font-family",SANS).attr("font-size",15).text(n);});
}
lightPanel({xr:[95,616],yr:[11,440],yd:[3,-16],yt:yTicksL,t:timeL,series:[gL,rL,iL,zL],ext:extL,lx:502,ly:18,mw:1,dw:1,dd:"6,5"});
lightPanel({xr:[786,1307],yr:[11,440],yd:[-2,-16],yt:yTicksR,t:timeR,series:[gR,rR,iR,zR],ext:extR,lx:793,ly:341.5,mw:1.3,dw:2,dd:"7,5"});

const levelFill=["#fcfcfc","#f3f3f3","#ebebeb","#d5d5d5"];
function mathText(sel,parts,size){
  sel.attr("font-size",size);
  let pendingUp=0;
  parts.forEach(p=>{const ts=sel.append("tspan").text(p[0]);
    if(p[1]==="i")ts.attr("font-style","italic");
    if(p[1]==="s"){ts.attr("font-size",size*.7).attr("dy",size*.2);pendingUp=size*.2;}
    else if(pendingUp){ts.attr("dy",-pendingUp);pendingUp=0;}
  });
}
const labelParts=[[["T","i"],["0","s"]],[["log"],["10","s"],["("],["M","i"],["ej","s"],[")"]],[["v","i"],["ej","s"]],[["\u03B8","i"],["ej","s"]],[["\u03D5","i"],["ej","s"]],null];
const fmtTick=(v,i)=>{const s=(i===0)?String(v):Number(v).toFixed(1);return minusFmt(s);};
function cornerAll(o){
  const S=97,P=101.8,n=6;
  const px=i=>o.x0+i*P,py=i=>517+i*P;
  const scX=i=>d3.scaleLinear().domain(o.dom[i]).range([px(i),px(i)+S]);
  const tks=i=>i===1?o.ticksM:ticksCommon[i];
  for(let c=0;c<n;c++){
    for(let r=c;r<n;r++){
      const X=scX(c),L=px(c),T=py(r),g=svg.append("g");
      if(r===c){
        const Y=d3.scaleLinear().domain([0,110]).range([T+S,T]);
        const h=o.hists[c],[a,b]=o.dom[c],w=(b-a)/h.length;
        const pts=[[a,0]];h.forEach((v,k)=>{pts.push([a+k*w,v]);pts.push([a+(k+1)*w,v]);});pts.push([b,0]);
        g.append("path").attr("d",d3.line().x(d=>X(d[0])).y(d=>Y(d[1]))(pts)).attr("fill","none").attr("stroke","#000").attr("stroke-width",1.2);
        o.quant[c].forEach(q=>g.append("line").attr("x1",X(q)).attr("x2",X(q)).attr("y1",T).attr("y2",T+S).attr("stroke","#000").attr("stroke-width",1.1).attr("stroke-dasharray","4,3"));
        g.append("line").attr("x1",X(o.truth[c])).attr("x2",X(o.truth[c])).attr("y1",T).attr("y2",T+S).attr("stroke","#4682b4").attr("stroke-width",o.tw);
        const dark=(c===0||c===5);
        g.append("rect").attr("x",L).attr("y",T).attr("width",S).attr("height",S).attr("fill","none").attr("stroke",dark?"#666":"#111").attr("stroke-width",1.4);
        tks(c).forEach(v=>{if(X(v)<L+S-1){[[T,T+3],[T+S,T+S-3]].forEach(e=>g.append("line").attr("x1",X(v)).attr("x2",X(v)).attr("y1",e[0]).attr("y2",e[1]).attr("stroke","#111"));}});
        const cx=L+S/2;
        const sgn=o.med[c]<0?"\u2212":"",abs=Math.abs(o.med[c]).toFixed(1).replace(".",". ");
        g.append("text").attr("x",cx+3.5).attr("y",T-4).attr("text-anchor","end").attr("font-family",SERIF).attr("font-size",16.5).text(sgn+abs);
        g.append("text").attr("x",cx+5).attr("y",T-10).attr("font-family",SERIF).attr("font-size",12).text("+"+o.plus[c].toFixed(1).replace(".",". "));
        g.append("text").attr("x",cx+5).attr("y",T+.5).attr("font-family",SERIF).attr("font-size",12).text("\u2212"+o.minus[c].toFixed(1).replace(".",". "));
      } else {
        const Y=d3.scaleLinear().domain(o.dom[r]).range([T+S,T]);
        const id="p"+(uid++);
        defs.append("clipPath").attr("id",id).append("rect").attr("x",L).attr("y",T).attr("width",S).attr("height",S);
        const inner=g.append("g").attr("clip-path",`url(#${id})`);
        const line=d3.line().x(d=>X(d[0])).y(d=>Y(d[1]));
        const spec=o.panel(c,r);
        const hz=[];for(let k=0;k<spec.haze.length;k+=2)hz.push([spec.haze[k],spec.haze[k+1]]);
        const hazePath=line(hz)+"Z";
        inner.append("path").attr("d",hazePath).attr("fill","#f5f5f5").attr("filter","url(#hb)");
        const mid="m"+(uid++);
        defs.append("mask").attr("id",mid).attr("maskUnits","userSpaceOnUse").attr("x",L).attr("y",T).attr("width",S).attr("height",S).append("path").attr("d",hazePath).attr("fill","#fff").attr("filter","url(#hb)");
        inner.append("rect").attr("x",L).attr("y",T).attr("width",S).attr("height",S).attr("fill","url(#spk)").attr("mask",`url(#${mid})`);
        spec.rings.forEach(ring=>{
          let pts=[];
          if(Array.isArray(ring[1])){
            const st=spec.st,lo=ring[1],hi=ring[2],vert=spec.kind==="v";
            st.forEach((s,k)=>pts.push(vert?[lo[k],s]:[s,lo[k]]));
            for(let k=st.length-1;k>=0;k--)pts.push(vert?[hi[k],st[k]]:[st[k],hi[k]]);
          } else for(let k=1;k<ring.length;k+=2)pts.push([ring[k],ring[k+1]]);
          inner.append("path").attr("d",line(pts)+"Z").attr("fill",levelFill[ring[0]]).attr("stroke","#4a4a4a").attr("stroke-width",1).attr("stroke-linejoin","round");
        });
        (spec.bins||[]).forEach(b=>{if(b[0]===c&&b[1]===r)inner.append("rect").attr("x",X(b[2])-2.5).attr("y",Y(b[3])-2.5).attr("width",5).attr("height",5).attr("fill","#8e8e8e");});
        (spec.diam||[]).forEach((d,k)=>inner.append("path").attr("transform",`translate(${X(d[0])},${Y(d[1])})`).attr("d",d3.symbol(d3.symbolDiamond,14)()).attr("fill",k%3===0?"#8a8a8a":"#fafafa").attr("stroke","#4a4a4a").attr("stroke-width",.9));
        (spec.dark||[]).forEach(d=>inner.append("circle").attr("cx",X(d[0])).attr("cy",Y(d[1])).attr("r",3).attr("fill","#000"));
        inner.append("line").attr("x1",X(o.truth[c])).attr("x2",X(o.truth[c])).attr("y1",T).attr("y2",T+S).attr("stroke","#4682b4").attr("stroke-opacity",.6).attr("stroke-width",1);
        inner.append("line").attr("x1",L).attr("x2",L+S).attr("y1",Y(o.truth[r])).attr("y2",Y(o.truth[r])).attr("stroke","#4682b4").attr("stroke-opacity",.6).attr("stroke-width",1);
        inner.append("rect").attr("x",X(o.truth[c])-2.5).attr("y",Y(o.truth[r])-2.5).attr("width",5).attr("height",5).attr("fill","#4682b4");
        g.append("rect").attr("x",L).attr("y",T).attr("width",S).attr("height",S).attr("fill","none").attr("stroke","#707070").attr("stroke-width",1.4);
        tks(c).forEach(v=>{if(X(v)<L+S-1){[[T,T+3],[T+S,T+S-3]].forEach(e=>g.append("line").attr("x1",X(v)).attr("x2",X(v)).attr("y1",e[0]).attr("y2",e[1]).attr("stroke","#555"));}});
        tks(r).forEach(v=>{if(Y(v)>T+1){[[L,L+3],[L+S,L+S-3]].forEach(e=>g.append("line").attr("y1",Y(v)).attr("y2",Y(v)).attr("x1",e[0]).attr("x2",e[1]).attr("stroke","#555"));}});
        if(c===0){
          tks(r).forEach(v=>g.append("text").attr("transform",`translate(${L-3},${Y(v)-1}) rotate(-45)`).attr("text-anchor","end").attr("dy","0.32em").attr("font-family",SANS).attr("font-size",12).attr("fill","#222").text(fmtTick(v,r===0?0:1)));
        }
      }
      if(r===5){
        const T2=py(5)+S;
        tks(c).forEach(v=>{g.append("text").attr("transform",`translate(${X(v)+3},${T2+5}) rotate(-45)`).attr("text-anchor","end").attr("dy","0.32em").attr("font-family",SANS).attr("font-size",12).attr("fill","#222").text(fmtTick(v,c===0?0:1));});
      }
    }
  }
  for(let i=0;i<6;i++){
    const bx=px(i)+S/2;
    if(i<5){
      mathText(svg.append("text").attr("x",bx).attr("y",1162).attr("text-anchor","middle").attr("font-family",SERIF),labelParts[i],i===1?20.5:21);
    } else svg.append("text").attr("x",bx).attr("y",1162).attr("text-anchor","middle").attr("font-family",SANS).attr("font-size",19).text("ZP");
    if(i>0){
      const by=py(i)+S/2;
      const t=svg.append("text").attr("transform",`translate(${o.x0-35},${by}) rotate(-90)`).attr("text-anchor","middle");
      if(i<5)mathText(t.attr("font-family",SERIF),labelParts[i],i===1?20.5:21);
      else t.attr("font-family",SANS).attr("font-size",19).text("ZP");
    }
  }
}
function panelTable(side){
  const L=side==="L";
  const R={ "0,1":L?rL01:rR01,"0,5":L?rL05:rR05,"1,5":L?rL15:rR15,"0,2":L?rL02:rR02,"0,3":L?rL03:rR03,"0,4":L?rL04:rR04,"1,2":L?rL12:rR12,"1,3":L?rL13:rR13,"1,4":L?rL14:rR14,"2,5":L?rL25:rR25,"3,5":L?rL35:rR35,"4,5":L?rL45:rR45,"2,3":L?rL23:rR23,"2,4":L?rL24:rR24,"3,4":L?rL34:rR34};
  const HZ={"0,1":L?hzL01:hzR01,"0,5":L?hzL05:hzR05,"1,5":L?hzL15:hzR15};
  const D={"2,3":L?dL23:dR23,"2,4":L?dL24:dR24,"3,4":L?dL34:dR34};
  const band=L?hzBandL:hzBandR,dom=L?domL:domR,stOf={2:stV,3:stTh,4:stPhi},k=L?kL:kR,bins=L?gL_bins:gR_bins;
  return (c,r)=>{
    const key=c+","+r,s={rings:R[key],dark:k[key],diam:D[key],bins};
    if(HZ[key])s.haze=HZ[key];
    else if(D[key]){const a=dom[c],b=dom[r];s.haze=[a[0]-1,b[0]-1,a[1]+1,b[0]-1,a[1]+1,b[1]+1,a[0]-1,b[1]+1];}
    else if(r===5){const a=dom[c],z=band.z;s.kind="h";s.st=stOf[c];s.haze=[a[0]-2,z[0],a[1]+2,z[0],a[1]+2,z[1],a[0]-2,z[1]];}
    else{const b=dom[r],t=c===0?band.t:band.m;s.kind="v";s.st=stOf[r];s.haze=[t[0],b[0]-2,t[1],b[0]-2,t[1],b[1]+2,t[0],b[1]+2];}
    return s;
  };
}
cornerAll({x0:58.7,dom:domL,ticksM:ticksMejL,hists:[hL_T0,hL_M,hL_v,hL_th,hL_phi,hL_ZP],quant:quantL,truth:truthL,med:medL,plus:plusL,minus:minusL,tw:1.2,panel:panelTable("L")});
cornerAll({x0:739.3,dom:domR,ticksM:ticksMejR,hists:[hR_T0,hR_M,hR_v,hR_th,hR_phi,hR_ZP],quant:quantR,truth:truthR,med:medR,plus:plusR,minus:minusR,tw:1.8,panel:panelTable("R")});
</script></body></html>
